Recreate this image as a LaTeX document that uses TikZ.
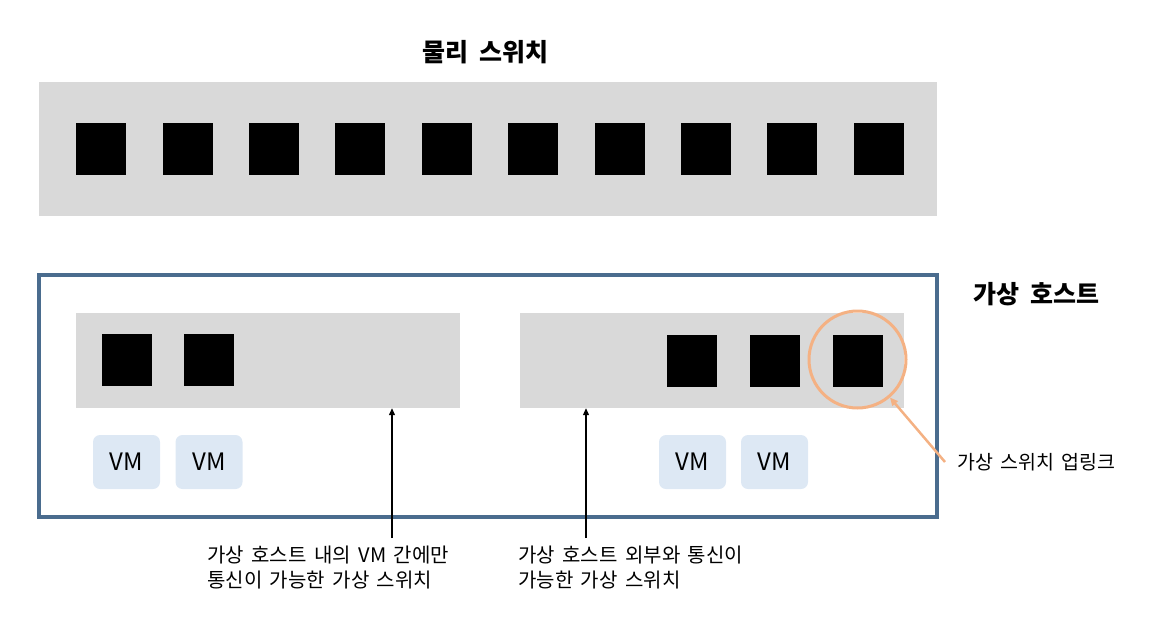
\documentclass[tikz,border=0pt]{standalone}
\usepackage{fontspec}
\setmainfont{Noto Sans CJK KR}
\usetikzlibrary{arrows.meta}
\definecolor{swgray}{HTML}{D9D9D9}
\definecolor{hostblue}{HTML}{4A6C8E}
\definecolor{vmblue}{HTML}{DDE8F4}
\definecolor{peach}{HTML}{F4B183}
\newcommand\mywidesp{\spaceskip=7.5pt plus 1pt\relax}
\newcommand\mytitlesp{\spaceskip=11pt plus 1pt\relax}
\tikzset{
  swbox/.style={fill=swgray, draw=none, inner sep=0pt, minimum width=384pt, minimum height=95pt},
  port/.style={fill=black, draw=none, inner sep=0pt, minimum width=50pt, minimum height=52pt},
  vmbox/.style={fill=vmblue, draw=none, rounded corners=7pt, inner sep=0pt, minimum width=67pt, minimum height=54pt, font=\fontsize{24}{28}\selectfont},
  title/.style={font=\fontsize{25}{30}\selectfont\bfseries\mytitlesp, inner sep=0pt},
  note/.style={font=\fontsize{20}{25}\selectfont\mywidesp, align=left, inner sep=0pt},
  callout/.style={-{Triangle[length=7pt,width=6pt]}, line width=1.2pt, black},
}
\begin{document}
\begin{tikzpicture}[x=1pt,y=-1pt]
\useasboundingbox (0,0) rectangle (1154,625);
% physical switch
\node[title] (ptitle) at (485.5,52.5) {물리 스위치};
\node[fill=swgray, inner sep=0pt, minimum width=898pt, minimum height=134pt] (psw) at (488,148.5) {};
\foreach \i/\x in {1/101,2/188,3/274,4/360,5/447,6/533,7/620,8/706,9/792,10/879}
  \node[port] (pp\i) at (\x,149) {};
% host
\node[draw=hostblue, line width=4pt, inner sep=0pt, minimum width=898pt, minimum height=242pt] (host) at (488,396) {};
\node[title] (htitle) at (1036.5,294) {가상 호스트};
% left vswitch
\node[swbox] (lsw) at (268,360.5) {};
\node[port] (lp1) at (127,360) {};
\node[port] (lp2) at (209,360) {};
\node[vmbox] (lvm1) at (126.5,462) {VM};
\node[vmbox] (lvm2) at (209,462) {VM};
% right vswitch
\node[swbox] (rsw) at (712,360.5) {};
\node[port] (rp1) at (692,361) {};
\node[port] (rp2) at (775,361) {};
\node[port] (rp3) at (858,361) {};
\node[vmbox] (rvm1) at (692.5,462) {VM};
\node[vmbox] (rvm2) at (774.5,462) {VM};
% uplink circle
\node[circle, draw=peach, line width=3pt, minimum size=97pt, inner sep=0pt] (upc) at (857.5,359.5) {};
\coordinate (upstart) at (945,462);
\draw[-{Triangle[length=8pt,width=7pt]}, peach, line width=2.5pt] (upstart) -- (upc);
\node[inner sep=0pt, anchor=west, font=\fontsize{19.5}{24}\selectfont\mywidesp] (uplabel) at (957,462) {가상 스위치 업링크};
% bottom callouts
\coordinate (a1) at (392,538);
\coordinate (a2) at (586,538);
\draw[callout] (a1) -- (a1 |- lsw.south);
\draw[callout] (a2) -- (a2 |- rsw.south);
\node[note, anchor=west] (lnote) at (207,567.5) {가상 호스트 내의 VM 간에만\\통신이 가능한 가상 스위치};
\node[note, anchor=west] (rnote) at (518,567.5) {가상 호스트 외부와 통신이\\가능한 가상 스위치};
\end{tikzpicture}
\end{document}
